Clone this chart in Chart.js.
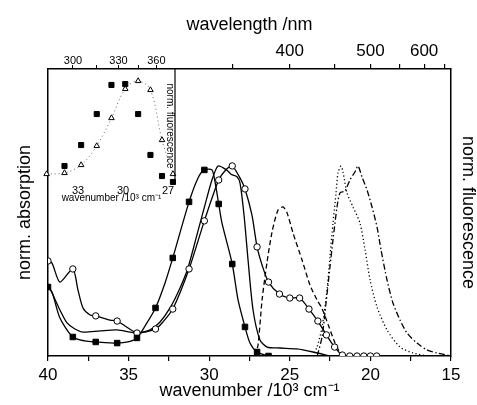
<!DOCTYPE html>
<html>
<head>
<meta charset="utf-8">
<script src="https://cdn.jsdelivr.net/npm/chart.js@4.4.1/dist/chart.umd.min.js"></script>
<style>
  body { margin: 0; background: #fff; }
  #wrap { position: relative; width: 477px; height: 405px; }
  canvas { position: absolute; left: 0; top: 0; }
</style>
</head>
<body>
<div id="wrap">
  <canvas id="mainChart" width="477" height="405"></canvas>
  <canvas id="insetChart" width="200" height="215"></canvas>
</div>
<script>
// main plot: wavenumber in 10^3 cm-1, normalised intensities
// filled squares (absorption)
const sqLineX = [40.00, 39.75, 39.26, 38.46, 37.70, 37.04, 35.71, 35.04, 34.48, 33.98, 33.33, 32.74, 32.26, 31.25, 30.69, 30.30, 29.83, 29.64, 29.41, 29.21, 28.57, 28.21, 27.78, 27.47, 27.03, 26.32];
const sqLineY = [0.363, 0.337, 0.200, 0.100, 0.079, 0.074, 0.068, 0.074, 0.095, 0.158, 0.253, 0.384, 0.516, 0.811, 0.937, 0.979, 0.979, 0.916, 0.800, 0.700, 0.484, 0.295, 0.153, 0.068, 0.021, 0.0];
const sqMarkX = [40.00, 38.46, 37.04, 35.71, 34.48, 33.33, 32.26, 31.25, 30.30, 29.41, 28.57, 27.78, 27.03, 26.32];
const sqMarkY = [0.363, 0.100, 0.074, 0.068, 0.095, 0.253, 0.516, 0.811, 0.979, 0.800, 0.484, 0.153, 0.021, 0.0];

// open circles (absorption)
const ciLineX = [40.00, 39.75, 39.26, 38.46, 38.14, 37.83, 37.39, 37.04, 36.15, 35.71, 35.22, 34.48, 33.98, 33.33, 32.87, 32.26, 31.25, 30.30, 29.41, 28.90, 28.57, 28.09, 27.78, 27.35, 27.03, 26.72, 26.32, 25.64, 25.00, 24.39, 23.81, 23.26, 22.73, 22.22, 21.74, 21.28, 20.83, 20.41, 20.00, 19.61];
const ciLineY = [0.500, 0.489, 0.389, 0.458, 0.347, 0.253, 0.216, 0.211, 0.189, 0.184, 0.158, 0.121, 0.126, 0.142, 0.179, 0.247, 0.458, 0.711, 0.926, 0.985, 1.000, 0.937, 0.879, 0.742, 0.574, 0.479, 0.389, 0.326, 0.305, 0.305, 0.247, 0.184, 0.111, 0.047, 0.005, 0, 0, 0, 0, 0];
const ciMarkX = [40.00, 38.46, 37.04, 35.71, 34.48, 33.33, 32.26, 31.25, 30.30, 29.41, 28.57, 27.78, 27.03, 26.32, 25.64, 25.00, 24.39, 23.81, 23.26, 22.73, 22.22, 21.74, 21.28, 20.83, 20.41, 20.00, 19.61];
const ciMarkY = [0.500, 0.458, 0.211, 0.184, 0.121, 0.142, 0.247, 0.458, 0.711, 0.926, 1.000, 0.879, 0.574, 0.389, 0.326, 0.305, 0.305, 0.247, 0.184, 0.111, 0.047, 0.005, 0, 0, 0, 0, 0];

// plain line (absorption)
const plLineX = [40.00, 39.69, 39.26, 38.82, 38.33, 37.83, 36.77, 35.72, 34.91, 34.48, 33.67, 33.05, 32.43, 31.81, 31.32, 30.76, 30.26, 29.83, 29.45, 28.92, 28.62, 28.29, 28.09, 27.84, 27.59, 27.28, 26.85, 26.41, 25.60, 24.55, 23.56, 22.51];
const plLineY = [0.374, 0.321, 0.242, 0.174, 0.142, 0.126, 0.132, 0.137, 0.126, 0.121, 0.137, 0.179, 0.253, 0.358, 0.463, 0.637, 0.795, 0.926, 1.000, 0.979, 0.955, 0.944, 0.911, 0.742, 0.505, 0.242, 0.084, 0.047, 0.042, 0.037, 0.021, 0];

// fluorescence: dashed, dash-dot, dotted
const fDashX = [27.16, 26.97, 26.72, 26.41, 26.10, 25.73, 25.42, 25.17, 24.80, 24.24, 23.75, 23.31, 23.00, 22.60, 22.20, 21.80];
const fDashY = [0, 0.058, 0.295, 0.495, 0.653, 0.768, 0.784, 0.753, 0.647, 0.505, 0.374, 0.295, 0.250, 0.160, 0.070, 0];
const fDashDotX = [23.30, 23.00, 22.75, 22.51, 22.32, 22.07, 21.89, 21.58, 21.27, 20.96, 20.77, 20.52, 20.21, 19.90, 19.59, 19.34, 18.97, 18.60, 18.16, 17.73, 17.11, 16.49, 15.87, 15.00];
const fDashDotY = [0, 0.100, 0.280, 0.468, 0.611, 0.784, 0.858, 0.868, 0.926, 0.968, 1.000, 0.942, 0.874, 0.784, 0.679, 0.558, 0.400, 0.279, 0.189, 0.121, 0.068, 0.032, 0.016, 0];
const fDotX = [23.62, 23.31, 23.00, 22.69, 22.51, 22.32, 22.13, 22.01, 21.82, 21.70, 21.45, 21.08, 20.65, 20.33, 20.02, 19.59, 18.97, 18.16, 17.36, 16.49];
const fDotY = [0, 0.047, 0.153, 0.347, 0.521, 0.700, 0.858, 0.963, 1.000, 0.968, 0.858, 0.784, 0.700, 0.558, 0.400, 0.258, 0.137, 0.047, 0.016, 0];

// top axis (wavelength, nm)
const topTickNm = [350, 400, 450, 500, 550, 600, 650];
const topLabelNm = [400, 500, 600];

// inset: excitation spectra
const inX = [35.09, 33.90, 32.79, 31.75, 30.77, 29.85, 28.99, 28.17, 27.40, 26.67];
const inSqY = [null, 0.149, 0.333, 0.605, 0.860, 0.868, 0.605, 0.246, 0.061, 0.009];
const inTriY = [0.079, 0.088, 0.158, 0.325, 0.570, 0.825, 0.895, 0.816, 0.377, 0.079];
const inBottomTicks = [33, 30, 27];
const inTopTickNm = [300, 315, 330, 345, 360];
const inTopLabelNm = [300, 330, 360];

Chart.defaults.font.family = "'Liberation Sans', Arial, sans-serif";
Chart.defaults.color = '#000';

const pts = (xs, ys) => xs.map((x, i) => ({ x: x, y: ys[i] }));

const lineSet = (xs, ys, dash) => ({
  data: pts(xs, ys),
  showLine: true,
  borderColor: '#000',
  borderWidth: 1.3,
  borderDash: dash || [],
  pointRadius: 0,
  tension: 0.25,
  order: 1
});

const markSet = (xs, ys, style, radius, fill) => ({
  data: pts(xs, ys),
  showLine: false,
  pointStyle: style,
  pointRadius: radius,
  pointBackgroundColor: fill,
  pointBorderColor: '#000',
  pointBorderWidth: 1,
  order: 0
});

const axisLine = { display: true, color: '#000', width: 1.5 };
const tickMarks = { display: true, drawOnChartArea: false, drawTicks: true, tickLength: 5, color: '#000', lineWidth: 1.2 };

new Chart(document.getElementById('mainChart'), {
  type: 'scatter',
  data: {
    datasets: [
      markSet(sqMarkX, sqMarkY, 'rect', 3.9, '#000'),
      markSet(ciMarkX, ciMarkY, 'circle', 3.2, '#fff'),
      lineSet(sqLineX, sqLineY),
      lineSet(ciLineX, ciLineY),
      lineSet(plLineX, plLineY),
      lineSet(fDashX, fDashY, [5, 3]),
      lineSet(fDashDotX, fDashDotY, [6, 2.5, 1.5, 2.5]),
      lineSet(fDotX, fDotY, [1.2, 2.5])
    ]
  },
  options: {
    responsive: false,
    devicePixelRatio: 1,
    animation: false,
    layout: { padding: 0 },
    plugins: { legend: { display: false }, tooltip: { enabled: false } },
    scales: {
      x: {
        type: 'linear', position: 'bottom', min: 15, max: 40, reverse: true,
        afterFit: s => { s.height = 49; },
        ticks: {
          stepSize: 2.5, autoSkip: false, maxRotation: 0, padding: 4,
          font: { size: 17 },
          callback: v => (v % 5 === 0 ? String(v) : '')
        },
        grid: tickMarks,
        border: axisLine,
        title: { display: true, text: 'wavenumber /10³ cm⁻¹', font: { size: 18 }, padding: { top: 0, bottom: 3 } }
      },
      xTop: {
        type: 'linear', position: 'top', min: 15, max: 40, reverse: true,
        afterFit: s => { s.height = 69; },
        afterBuildTicks: s => { s.ticks = topTickNm.map(nm => ({ value: 1e4 / nm })); },
        ticks: {
          autoSkip: false, maxRotation: 0, padding: 2,
          font: { size: 17 },
          callback: v => {
            const nm = Math.round(1e4 / v);
            return topLabelNm.includes(nm) ? String(nm) : '';
          }
        },
        grid: tickMarks,
        border: axisLine,
        title: { display: true, text: 'wavelength /nm', font: { size: 18 }, padding: { top: 14, bottom: 0 } }
      },
      y: {
        position: 'left', min: 0, max: 1.51,
        afterFit: s => { s.width = 48; },
        ticks: { display: false },
        grid: { display: false },
        border: axisLine,
        title: { display: true, text: 'norm. absorption', font: { size: 18 }, padding: { top: 14, bottom: 0 } }
      },
      yRight: {
        position: 'right', min: 0, max: 1.51,
        afterFit: s => { s.width = 26; },
        ticks: { display: false },
        grid: { display: false },
        border: axisLine,
        title: { display: true, text: 'norm. fluorescence', font: { size: 18, lineHeight: 1 }, padding: { top: 0, bottom: 0 } }
      }
    }
  }
});

// inset right frame and its rotated label
const insetFrame = {
  id: 'insetFrame',
  afterDraw(chart) {
    const { ctx, chartArea } = chart;
    ctx.save();
    ctx.strokeStyle = '#000';
    ctx.lineWidth = 1.2;
    ctx.beginPath();
    ctx.moveTo(chartArea.right, chartArea.top);
    ctx.lineTo(chartArea.right, chartArea.bottom);
    ctx.stroke();
    ctx.translate(chartArea.right - 5, (chartArea.top + chartArea.bottom) / 2);
    ctx.rotate(Math.PI / 2);
    ctx.font = "10px 'Liberation Sans', Arial, sans-serif";
    ctx.fillStyle = '#000';
    ctx.textAlign = 'center';
    ctx.textBaseline = 'middle';
    ctx.fillText('norm. fluorescence', 0, 0);
    ctx.restore();
  }
};

new Chart(document.getElementById('insetChart'), {
  type: 'scatter',
  data: {
    datasets: [
      markSet(inX, inSqY, 'rect', 3.6, '#000'),
      markSet(inX, inTriY, 'triangle', 3.2, '#fff'),
      {
        data: pts(inX, inTriY),
        showLine: true,
        borderColor: '#666',
        borderWidth: 1,
        borderDash: [1, 3],
        pointRadius: 0,
        tension: 0.35,
        order: 1
      }
    ]
  },
  options: {
    responsive: false,
    devicePixelRatio: 1,
    animation: false,
    clip: false,
    layout: { padding: { left: 48, right: 25, top: 0, bottom: 0 } },
    plugins: { legend: { display: false }, tooltip: { enabled: false } },
    scales: {
      x: {
        type: 'linear', position: 'bottom', min: 26.533, max: 35, reverse: true,
        afterFit: s => { s.height = 32; },
        afterBuildTicks: s => { s.ticks = inBottomTicks.map(v => ({ value: v })); },
        ticks: { autoSkip: false, maxRotation: 0, padding: 1, font: { size: 11 } },
        grid: { display: false, drawTicks: false },
        border: { display: false },
        title: { display: true, text: 'wavenumber /10³ cm⁻¹', font: { size: 10 }, padding: { top: 0, bottom: 11 } }
      },
      xTop: {
        type: 'linear', position: 'top', min: 26.533, max: 35, reverse: true,
        afterFit: s => { s.height = 69; },
        afterBuildTicks: s => { s.ticks = inTopTickNm.map(nm => ({ value: 1e4 / nm })); },
        ticks: {
          autoSkip: false, maxRotation: 0, padding: -3, font: { size: 11 },
          callback: v => {
            const nm = Math.round(1e4 / v);
            return inTopLabelNm.includes(nm) ? String(nm) : '';
          }
        },
        grid: { display: true, drawOnChartArea: false, drawTicks: true, tickLength: 4, color: '#000', lineWidth: 1 },
        border: { display: false }
      },
      y: { display: false, min: 0, max: 1 }
    }
  },
  plugins: [insetFrame]
});
</script>
</body>
</html>
